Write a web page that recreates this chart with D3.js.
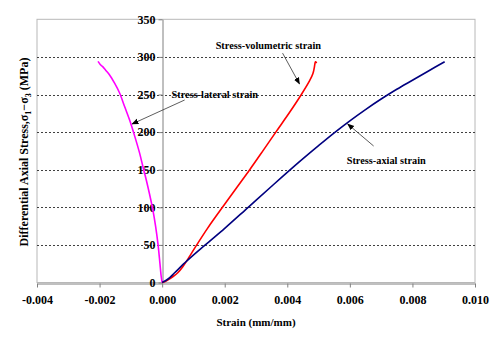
<!DOCTYPE html>
<html>
<head>
<meta charset="utf-8">
<script src="https://cdn.jsdelivr.net/npm/d3@7"></script>
<style>
  body { margin: 0; background: #fff; }
  svg { display: block; }
  text { font-family: "Liberation Serif", "Times New Roman", serif; font-weight: bold; fill: #000; }
</style>
</head>
<body>
<svg id="chart" width="500" height="340"></svg>
<script>
// ---- data ----
const xTicks = [-0.004, -0.002, 0.000, 0.002, 0.004, 0.006, 0.008, 0.010];
const xTickLabels = ["-0.004", "-0.002", "0.000", "0.002", "0.004", "0.006", "0.008", "0.010"];
const yTicks = [0, 50, 100, 150, 200, 250, 300, 350];
const gridValues = [50, 100, 150, 200, 250, 300];

const lateralStrain = [0, -0.00003, -0.00007, -0.00013, -0.00021, -0.000294, -0.0004, -0.000505, -0.00062, -0.00072, -0.00088, -0.00104, -0.0012, -0.00136, -0.00152, -0.00168, -0.0018, -0.0019, -0.00198, -0.00205];
const lateralStress = [0, 8, 25, 50, 75, 96, 117, 136, 155, 172, 195, 216, 234, 252, 265, 276, 282, 287, 290, 294];

const volStrain = [0, 0.00008, 0.00019, 0.00035, 0.0005, 0.00066, 0.00085, 0.00106, 0.00145, 0.00205, 0.0028, 0.00322, 0.00365, 0.00407, 0.00445, 0.00471, 0.00482, 0.00486, 0.00488, 0.0049, 0.00494];
const volStress = [0, 1, 3.5, 8, 13, 21, 33, 47, 72, 107, 150, 175, 201, 226, 250, 268, 278, 285, 290, 293.5, 292];

const axialStrain = [0, 0.0002, 0.0004, 0.0008, 0.00138, 0.002, 0.00275, 0.0035, 0.0044, 0.005, 0.0055, 0.006, 0.0065, 0.007, 0.0075, 0.008, 0.0085, 0.00903];
const axialStress = [0, 5, 13, 29, 50, 72, 100, 128, 161, 182, 199, 215, 230, 244, 257, 269, 281, 293.6];

const seriesNames = ["Stress-lateral strain", "Stress-volumetric strain", "Stress-axial strain"];
const seriesColors = ["#FF00FF", "#FF0000", "#000080"];

// annotation anchors in data coordinates: [textX, textY, arrowFromX, arrowFromY, arrowToX, arrowToY]
const annotations = [
  [0.0003, 246, 0.00072, 242.7, -0.00096, 210.8],
  [0.00171, 310, 0.00385, 305, 0.00439, 264],
  [0.0059, 157, 0.00676, 181.5, 0.00593, 210.8]
];

// ---- chart ----
const svg = d3.select("#chart");
const x = d3.scaleLinear().domain([-0.004, 0.010]).range([37, 475]);
const y = d3.scaleLinear().domain([0, 350]).range([282.5, 19.3]);

// plot border
svg.append("rect")
  .attr("x", x(-0.004)).attr("y", y(350))
  .attr("width", x(0.010) - x(-0.004)).attr("height", y(0) - y(350))
  .attr("fill", "#fff").attr("stroke", "#b8b8b8").attr("stroke-width", 1);

// gridlines
svg.append("g").selectAll("line").data(gridValues).join("line")
  .attr("x1", x(-0.004)).attr("x2", x(0.010))
  .attr("y1", d => Math.round(y(d)) + 0.5).attr("y2", d => Math.round(y(d)) + 0.5)
  .attr("stroke", "#404040").attr("stroke-width", 1).attr("stroke-dasharray", "2,2");

// x axis
const xAxis = svg.append("g")
  .attr("transform", `translate(0,${Math.round(y(0)) + 0.5})`)
  .call(d3.axisBottom(x).tickValues(xTicks).tickSize(4).tickSizeOuter(0)
    .tickFormat((d, i) => xTickLabels[i]));
xAxis.select(".domain").attr("stroke", "#808080");
xAxis.selectAll(".tick line").attr("stroke", "#808080");
xAxis.selectAll(".tick text").attr("font-size", 12).attr("dy", "1.1em");

// y axis
const yAxis = svg.append("g")
  .attr("transform", `translate(${Math.round(x(0)) + 0.5},0)`)
  .call(d3.axisLeft(y).tickValues(yTicks).tickSize(4).tickSizeOuter(0).tickPadding(3));
yAxis.select(".domain").attr("stroke", "#808080");
yAxis.selectAll(".tick line").attr("stroke", "#808080");
yAxis.selectAll(".tick text").attr("font-size", 12);

// lines
const lineGen = d3.line().x(d => x(d[0])).y(d => y(d[1])).curve(d3.curveCatmullRom.alpha(0.5));
const seriesData = [
  d3.zip(lateralStrain, lateralStress),
  d3.zip(volStrain, volStress),
  d3.zip(axialStrain, axialStress)
];
svg.append("g").selectAll("path").data(seriesData).join("path")
  .attr("d", lineGen)
  .attr("fill", "none")
  .attr("stroke", (d, i) => seriesColors[i])
  .attr("stroke-width", 1.6)
  .attr("stroke-linejoin", "round");

// arrow marker
svg.append("defs").append("marker")
  .attr("id", "arrow").attr("viewBox", "0 0 10 10")
  .attr("refX", 9).attr("refY", 5)
  .attr("markerWidth", 7).attr("markerHeight", 7)
  .attr("markerUnits", "userSpaceOnUse")
  .attr("orient", "auto")
  .append("path").attr("d", "M0,1 L10,5 L0,9 Z").attr("fill", "#000");

// annotations
const ann = svg.append("g");
annotations.forEach((a, i) => {
  ann.append("line")
    .attr("x1", x(a[2])).attr("y1", y(a[3]))
    .attr("x2", x(a[4])).attr("y2", y(a[5]))
    .attr("stroke", "#333").attr("stroke-width", 0.8)
    .attr("marker-end", "url(#arrow)");
  ann.append("text")
    .attr("x", x(a[0])).attr("y", y(a[1]))
    .attr("font-size", 10.3)
    .text(seriesNames[i]);
});

// axis titles
svg.append("text")
  .attr("x", (x(-0.004) + x(0.010)) / 2).attr("y", 325.5)
  .attr("text-anchor", "middle").attr("font-size", 11)
  .text("Strain (mm/mm)");

const yt = svg.append("text")
  .attr("transform", "translate(28,152) rotate(-90)")
  .attr("text-anchor", "middle").attr("font-size", 12);
yt.append("tspan").text("Differential Axial Stress,σ");
yt.append("tspan").attr("font-size", 8).attr("dy", 3).text("1");
yt.append("tspan").attr("dy", -3).text("\u2212σ");
yt.append("tspan").attr("font-size", 8).attr("dy", 3).text("3");
yt.append("tspan").attr("dy", -3).text(" (MPa)");
</script>
</body>
</html>
